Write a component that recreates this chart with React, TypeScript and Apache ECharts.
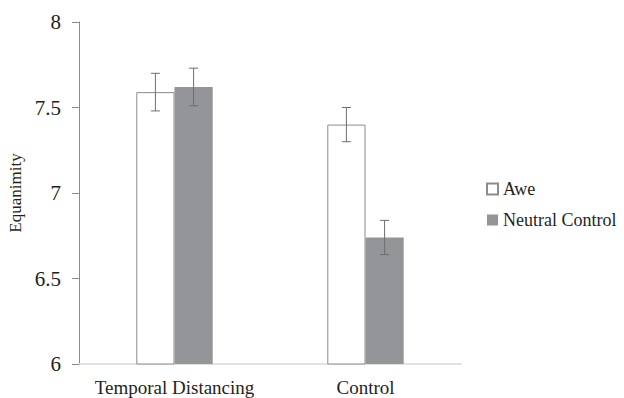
import React, { useEffect, useRef } from "react";
import * as echarts from "echarts";

const categories = ["Temporal Distancing", "Control"];
const seriesNames = ["Awe", "Neutral Control"];
const aweValues = [7.59, 7.4];
const neutralValues = [7.62, 6.74];
const aweErrors = [
  [7.48, 7.7],
  [7.3, 7.5],
];
const neutralErrors = [
  [7.51, 7.73],
  [6.64, 6.84],
];
const yTicks = { min: 6, max: 8, interval: 0.5 };

const FONT = "Liberation Serif, Times New Roman, Times, Tinos, DejaVu Serif, serif";
const TEXT = "#231f20";

export default function App() {
  const ref = useRef<HTMLDivElement>(null);
  useEffect(() => {
    if (!ref.current) return;
    const chart = echarts.init(ref.current, null, { renderer: "svg" });
    const errData: any[] = [];
    aweErrors.forEach((e, i) => errData.push([i, e[0], e[1], -1]));
    neutralErrors.forEach((e, i) => errData.push([i, e[0], e[1], 1]));
    chart.setOption({
      animation: false,
      textStyle: { fontFamily: FONT },
      grid: { left: 79, right: 163, top: 22, bottom: 34, outerBoundsMode: "none", containLabel: false },
      legend: {
        orient: "vertical",
        left: 481,
        top: 175,
        itemGap: 13,
        itemWidth: 11,
        itemHeight: 11,
        icon: "rect",
        data: seriesNames,
        textStyle: { fontFamily: FONT, fontSize: 18, color: TEXT },
      },
      xAxis: {
        type: "category",
        data: categories,
        axisLine: { lineStyle: { color: "#d9d9d9", width: 1.5 } },
        axisTick: { show: false },
        axisLabel: { fontFamily: FONT, fontSize: 19, color: TEXT, margin: 14, interval: 0 },
      },
      yAxis: {
        type: "value",
        min: yTicks.min,
        max: yTicks.max,
        interval: yTicks.interval,
        name: "Equanimity",
        nameLocation: "middle",
        nameGap: 54,
        nameTextStyle: { fontFamily: FONT, fontSize: 17, color: TEXT },
        axisLine: { show: true, lineStyle: { color: "#8a8a8a", width: 1 } },
        axisTick: { show: true, length: 7, lineStyle: { color: "#8a8a8a" } },
        splitLine: { show: false },
        axisLabel: { fontFamily: FONT, fontSize: 21, color: TEXT, margin: 18 },
      },
      series: [
        {
          name: seriesNames[0],
          type: "bar",
          data: aweValues,
          barWidth: "20%",
          barGap: "0%",
          itemStyle: { color: "#ffffff", borderColor: "#8c8c8c", borderWidth: 1 },
        },
        {
          name: seriesNames[1],
          type: "bar",
          data: neutralValues,
          barWidth: "20%",
          barGap: "0%",
          itemStyle: { color: "#939598" },
        },
        {
          type: "custom",
          data: errData,
          z: 10,
          renderItem: (params: any, api: any) => {
            const idx = api.value(0);
            const lo = api.coord([idx, api.value(1)]);
            const hi = api.coord([idx, api.value(2)]);
            const band = api.size([1, 0])[0];
            const x = lo[0] + api.value(3) * band * 0.1;
            const cap = 4.5;
            const style = { stroke: "#6e6e6e", lineWidth: 1 };
            return {
              type: "group",
              children: [
                { type: "line", shape: { x1: x, y1: lo[1], x2: x, y2: hi[1] }, style },
                { type: "line", shape: { x1: x - cap, y1: lo[1], x2: x + cap, y2: lo[1] }, style },
                { type: "line", shape: { x1: x - cap, y1: hi[1], x2: x + cap, y2: hi[1] }, style },
              ],
            };
          },
        },
      ],
    });
    return () => chart.dispose();
  }, []);
  return <div ref={ref} style={{ width: 624, height: 398, position: "absolute", left: 0, top: 0, background: "#fff" }} />;
}
